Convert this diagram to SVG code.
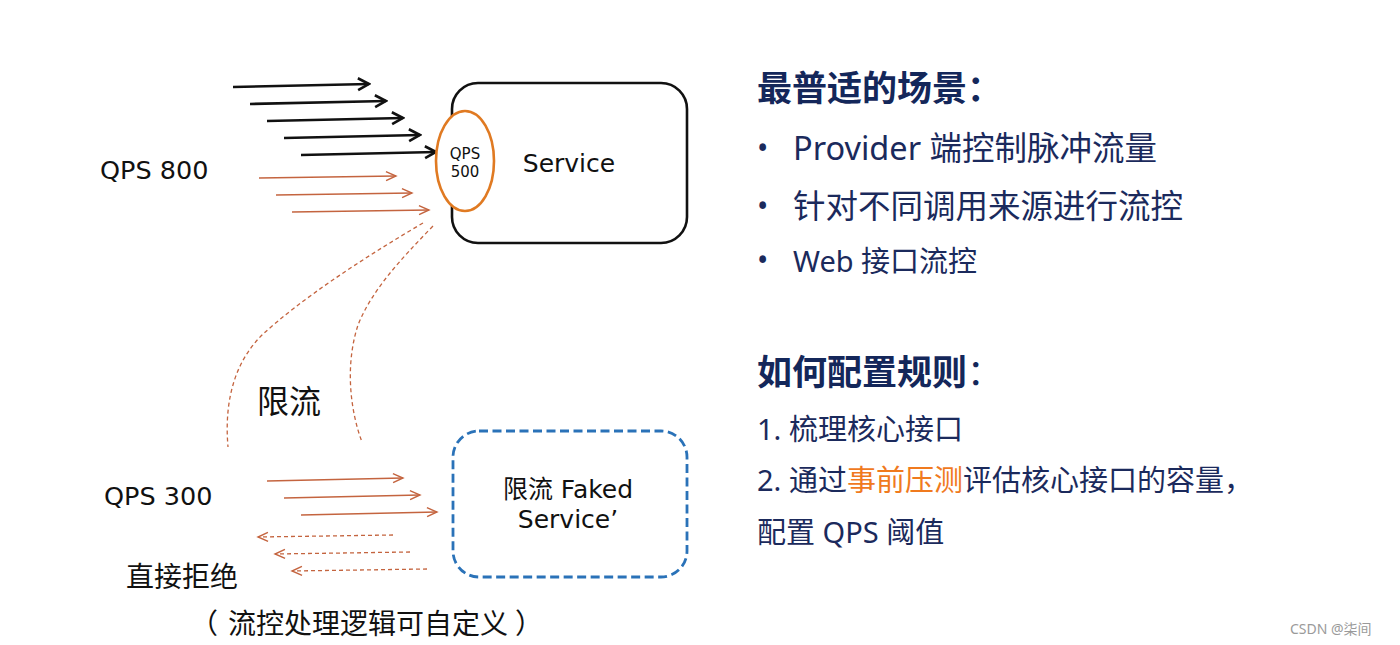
<svg xmlns="http://www.w3.org/2000/svg" width="1400" height="645" viewBox="0 0 1400 645">
<defs>
<style>
.lbl{font-family:"DejaVu Sans","Noto Sans CJK SC",sans-serif;fill:#111}
.rt{font-family:"Noto Sans","Noto Sans CJK SC",sans-serif;fill:#1B2A5C}
.bk{stroke:#111;stroke-width:2.6;fill:none}
.br{stroke:#C4643F;stroke-width:1.4;fill:none}
.brd{stroke:#C4643F;stroke-width:1.3;fill:none;stroke-dasharray:4 3}
</style>
<marker id="ab" viewBox="0 0 16 16" refX="14" refY="8" markerWidth="16" markerHeight="16" markerUnits="userSpaceOnUse" orient="auto">
<path d="M3,2 L14,8 L3,14" fill="none" stroke="#111" stroke-width="2.6"/>
</marker>
<marker id="ar" viewBox="0 0 14 14" refX="12" refY="7" markerWidth="14" markerHeight="14" markerUnits="userSpaceOnUse" orient="auto">
<path d="M2,2.5 L12,7 L2,11.5" fill="none" stroke="#C4643F" stroke-width="1.4"/>
</marker>
</defs>
<rect width="1400" height="645" fill="#fff"/>

<g id="connectors">
<line class="bk" x1="233" y1="87" x2="369" y2="84" marker-end="url(#ab)"/>
<line class="bk" x1="250" y1="104" x2="386" y2="101" marker-end="url(#ab)"/>
<line class="bk" x1="267" y1="121" x2="403" y2="118" marker-end="url(#ab)"/>
<line class="bk" x1="284" y1="138" x2="420" y2="135" marker-end="url(#ab)"/>
<line class="bk" x1="301" y1="155" x2="436" y2="152" marker-end="url(#ab)"/>
<line class="br" x1="259" y1="178" x2="396" y2="176" marker-end="url(#ar)"/>
<line class="br" x1="276" y1="195" x2="412" y2="193" marker-end="url(#ar)"/>
<line class="br" x1="292" y1="212" x2="429" y2="210" marker-end="url(#ar)"/>
<path class="brd" d="M423,223 C360,260 300,300 262,335 C235,362 224,400 228,447"/>
<path class="brd" d="M433,226 C400,260 372,290 358,325 C345,365 350,410 362,442"/>
<line class="br" x1="267" y1="481" x2="403" y2="478" marker-end="url(#ar)"/>
<line class="br" x1="284" y1="498" x2="420" y2="495" marker-end="url(#ar)"/>
<line class="br" x1="301" y1="515" x2="437" y2="512" marker-end="url(#ar)"/>
<line class="brd" x1="393" y1="535" x2="258" y2="537" marker-end="url(#ar)"/>
<line class="brd" x1="410" y1="552" x2="275" y2="554" marker-end="url(#ar)"/>
<line class="brd" x1="427" y1="569" x2="292" y2="571" marker-end="url(#ar)"/>
</g>

<g id="service">
<rect x="452" y="83" width="235" height="160" rx="26" fill="#fff" stroke="#111" stroke-width="2.6"/>
<text class="lbl" x="569" y="172" font-size="25" text-anchor="middle">Service</text>
</g>
<g id="qps500">
<ellipse cx="465" cy="161" rx="29" ry="50" fill="#fff" stroke="#E07A22" stroke-width="2.6"/>
<text class="lbl" x="465" y="159" font-size="15" text-anchor="middle">QPS</text>
<text class="lbl" x="465" y="177" font-size="15" text-anchor="middle">500</text>
</g>
<g id="faked">
<rect x="453" y="431" width="234" height="146" rx="26" fill="#fff" stroke="#2A72B8" stroke-width="2.8" stroke-dasharray="9 4.5"/>
<text class="lbl" x="568" y="498" font-size="25" text-anchor="middle">限流 Faked</text>
<text class="lbl" x="568" y="528" font-size="25" text-anchor="middle">Service’</text>
</g>

<g id="left-labels">
<text class="lbl" x="100" y="179" font-size="25.5">QPS 800</text>
<text class="lbl" x="257" y="413" font-size="32">限流</text>
<text class="lbl" x="104" y="505" font-size="25.5">QPS 300</text>
<text class="lbl" x="126" y="587" font-size="28">直接拒绝</text>
<text class="lbl" font-size="28"><tspan x="190" y="634">（</tspan><tspan x="228" y="634">流控处理逻辑可自定义</tspan><tspan x="515" y="634">）</tspan></text>
</g>

<g id="right-text">
<text class="rt" x="757" y="101" font-size="35" font-weight="bold" style="fill:#14275A">最普适的场景：</text>
<text class="rt" x="757" y="159" font-size="30">•</text>
<text class="rt" x="793" y="160" font-size="32.5">Provider 端控制脉冲流量</text>
<text class="rt" x="757" y="217" font-size="30">•</text>
<text class="rt" x="793" y="218" font-size="32.5">针对不同调用来源进行流控</text>
<text class="rt" x="757" y="271" font-size="30">•</text>
<text class="rt" x="793" y="272" font-size="29">Web 接口流控</text>
<text class="rt" x="757" y="385" font-size="35" font-weight="bold" style="fill:#14275A">如何配置规则<tspan font-weight="normal">：</tspan></text>
<text class="rt" x="757" y="440" font-size="29">1. 梳理核心接口</text>
<text class="rt" x="757" y="491" font-size="29">2. 通过<tspan style="fill:#F07A1E">事前压测</tspan>评估核心接口的容量，</text>
<text class="rt" x="757" y="543" font-size="29">配置 QPS 阈值</text>
<text x="1290" y="634" font-size="14" font-family="'Noto Sans','Noto Sans CJK SC',sans-serif" fill="#9a9a9a">CSDN @柒间</text>
</g>
</svg>
